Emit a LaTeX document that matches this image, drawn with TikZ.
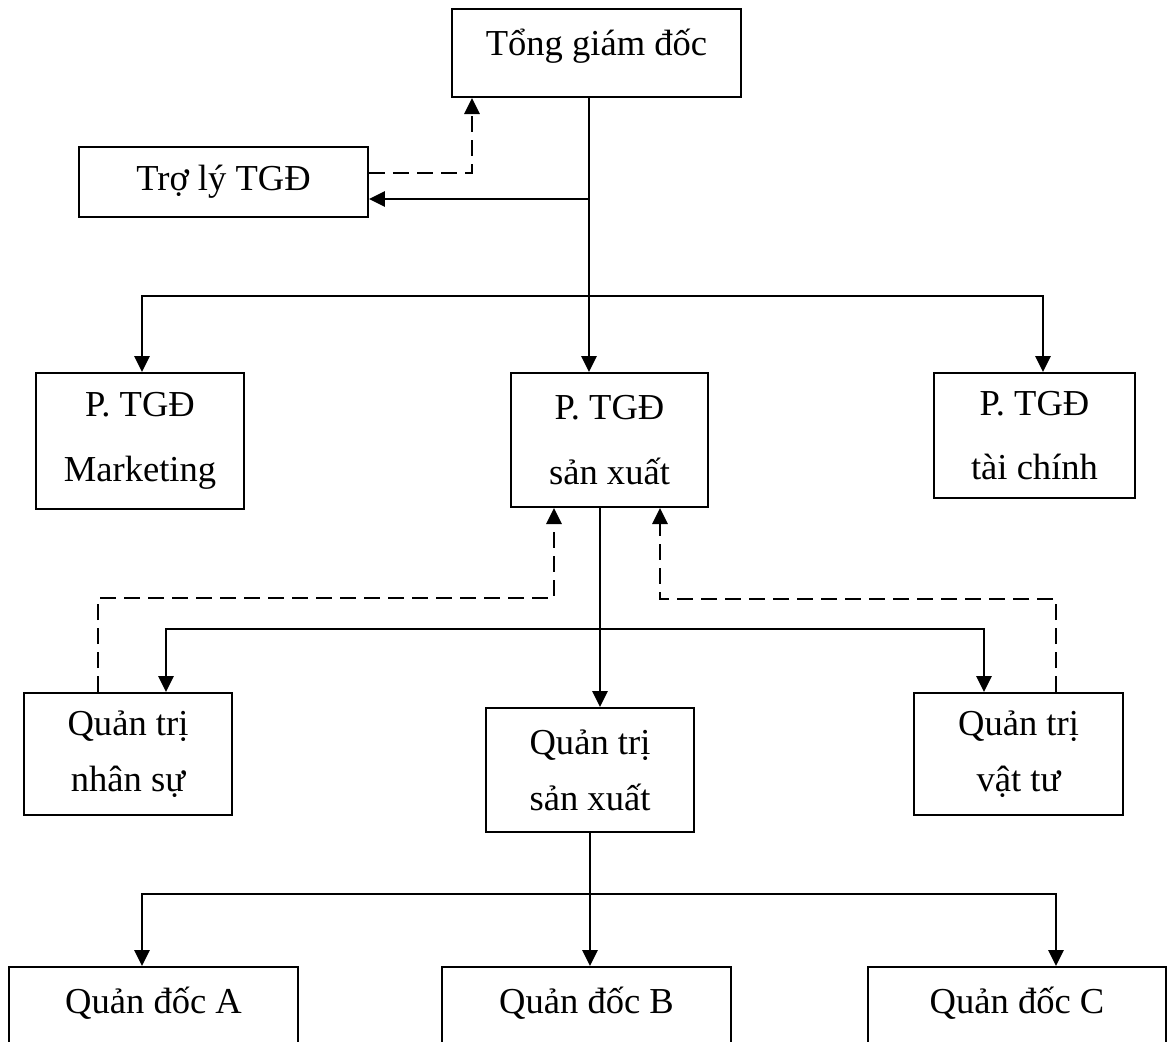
\documentclass[tikz,border=0pt]{standalone}
\usepackage{fontspec}
\setmainfont{Liberation Serif}
\usetikzlibrary{arrows.meta}

\begin{document}
\begin{tikzpicture}[x=0.025cm, y=-0.025cm,
  box/.style={draw, line width=1.4pt, inner sep=0pt, align=center,
    font=\fontsize{26pt}{40pt}\selectfont},
  wide/.style={box, font=\fontsize{26pt}{46pt}\selectfont},
  sz/.style 2 args={minimum width=#1*0.025cm, minimum height=#2*0.025cm},
  topline/.style={text height=1.15cm, text depth=#1},
  conn/.style={line width=1.8pt, line join=miter},
  arr/.style={conn, -{Triangle[length=0.4cm, width=0.38cm]}},
  both/.style={conn, {Triangle[length=0.4cm, width=0.38cm]}-{Triangle[length=0.4cm, width=0.38cm]}},
  dasharr/.style={arr, dash pattern=on 0.4cm off 0.2cm}]

\useasboundingbox (0,0) rectangle (1168,1041);

% boxes
\node[box, minimum width=289*0.025cm, topline=1.05cm] (tgd) at (596.5,53) {Tổng giám đốc};
\node[box, sz={289}{70}] (troly) at (223.5,182) {Trợ lý TGĐ};

\node[wide, sz={208}{136}] (mkt) at (140,441) {P. TGĐ\\Marketing};
\node[wide, sz={197}{134}] (psx) at (609.5,440) {P. TGĐ\\sản xuất};
\node[wide, sz={201}{125}] (ptc) at (1034.5,435.5) {P. TGĐ\\tài chính};

\node[box, sz={208}{122}] (ns) at (128,754) {Quản trị\\nhân sự};
\node[box, sz={208}{124}] (qtsx) at (590,770) {Quản trị\\sản xuất};
\node[box, sz={209}{122}] (vt) at (1018.5,754) {Quản trị\\vật tư};

\node[box, minimum width=289*0.025cm, topline=0.8cm] (qda) at (153.5,1006) {Quản đốc A};
\node[box, minimum width=289*0.025cm, topline=0.8cm] (qdb) at (586.5,1006) {Quản đốc B};
\node[box, minimum width=298*0.025cm, topline=0.8cm] (qdc) at (1017,1006) {Quản đốc C};

% junction and bend points
\coordinate (j1) at (589,199);
\coordinate (b1l) at (142,296);
\coordinate (b1r) at (1043,296);
\coordinate (j3) at (600,629);
\coordinate (b2l) at (166,629);
\coordinate (b2r) at (984,629);
\coordinate (j4) at (590,894);
\coordinate (b3l) at (142,894);
\coordinate (b3r) at (1056,894);
\coordinate (d1a) at (472,173);
\coordinate (d2a) at (98,598);
\coordinate (d2b) at (554,598);
\coordinate (d3a) at (1056,599);
\coordinate (d3b) at (660,599);

% line of command
\draw[arr] (tgd.south -| j1) -- (psx.north -| j1);
\draw[arr] (j1) -- (troly.east |- j1);
\draw[both] (mkt.north -| b1l) -- (b1l) -- (b1r) -- (ptc.north -| b1r);

\draw[arr] (psx.south -| j3) -- (qtsx.north -| j3);
\draw[both] (ns.north -| b2l) -- (b2l) -- (b2r) -- (vt.north -| b2r);

\draw[arr] (qtsx.south -| j4) -- (qdb.north -| j4);
\draw[both] (qda.north -| b3l) -- (b3l) -- (b3r) -- (qdc.north -| b3r);

% advisory links
\draw[dasharr] (troly.east |- d1a) -- (d1a) -- (tgd.south -| d1a);
\draw[dasharr] (ns.north -| d2a) -- (d2a) -- (d2b) -- (psx.south -| d2b);
\draw[dasharr] (vt.north -| d3a) -- (d3a) -- (d3b) -- (psx.south -| d3b);
\end{tikzpicture}
\end{document}
